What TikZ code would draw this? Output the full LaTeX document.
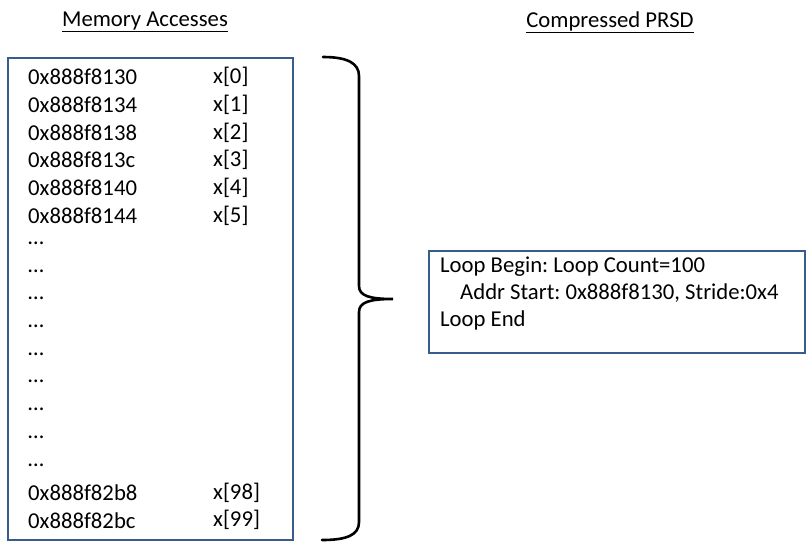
\documentclass[tikz,border=0pt]{standalone}
\usepackage{fontspec}
\setmainfont{Carlito}
\frenchspacing
\definecolor{boxblue}{RGB}{56,93,138}
\begin{document}
\begin{tikzpicture}[x=1pt,y=-1pt,
  txt/.style={inner sep=0pt,anchor=west,font=\fontsize{22.7}{26}\selectfont},
  title/.style={inner sep=0pt,font=\fontsize{22.7}{26}\selectfont},
  panel/.style={draw=boxblue,line width=2pt}]
\useasboundingbox (0,0) rectangle (807,542);

% headings
\node[title] (tmem) at (145,22) {\underline{Memory Accesses}};
\node[title] (tprsd) at (610,22) {\underline{Compressed PRSD}};

% list of accessed addresses
\draw[panel] (8,58) rectangle (293,540);
\foreach \i/\addr/\elem [count=\k from 0] in {
  0/0x888f8130/x[0], 1/0x888f8134/x[1], 2/0x888f8138/x[2],
  3/0x888f813c/x[3], 4/0x888f8140/x[4], 5/0x888f8144/x[5],
  6/\dots/, 7/\dots/, 8/\dots/, 9/\dots/, 10/\dots/, 11/\dots/,
  12/\dots/, 13/\dots/, 14/\dots/,
  15/0x888f82b8/x[98], 16/0x888f82bc/x[99]} {
  \node[txt] (addr\k) at (28,{77+27.7*\k}) {\addr};
  \node[txt] (elem\k) at (213,{77+27.7*\k}) {\elem};
}

% brace grouping the accesses
\coordinate (btop) at (323,57);
\coordinate (btip) at (393,299);
\coordinate (bbot) at (322,540);
\draw[line width=2.6pt,line cap=round]
  (btop) .. controls (347,57) and (359,63) .. (359,76)
  -- (359,286) .. controls (359,296) and (370,299) .. (btip)
  .. controls (370,299) and (359,302) .. (359,312)
  -- (359,522) .. controls (359,535) and (347,540) .. (bbot);

% compressed descriptor
\draw[panel] (429,251) rectangle (805,353);
\node[txt] (lbegin) at (440,267) {Loop Begin: Loop Count=100};
\node[txt] (laddr) at (460,293) {Addr Start: 0x888f8130, Stride:0x4};
\node[txt] (lend) at (440,320) {Loop End};
\end{tikzpicture}
\end{document}
